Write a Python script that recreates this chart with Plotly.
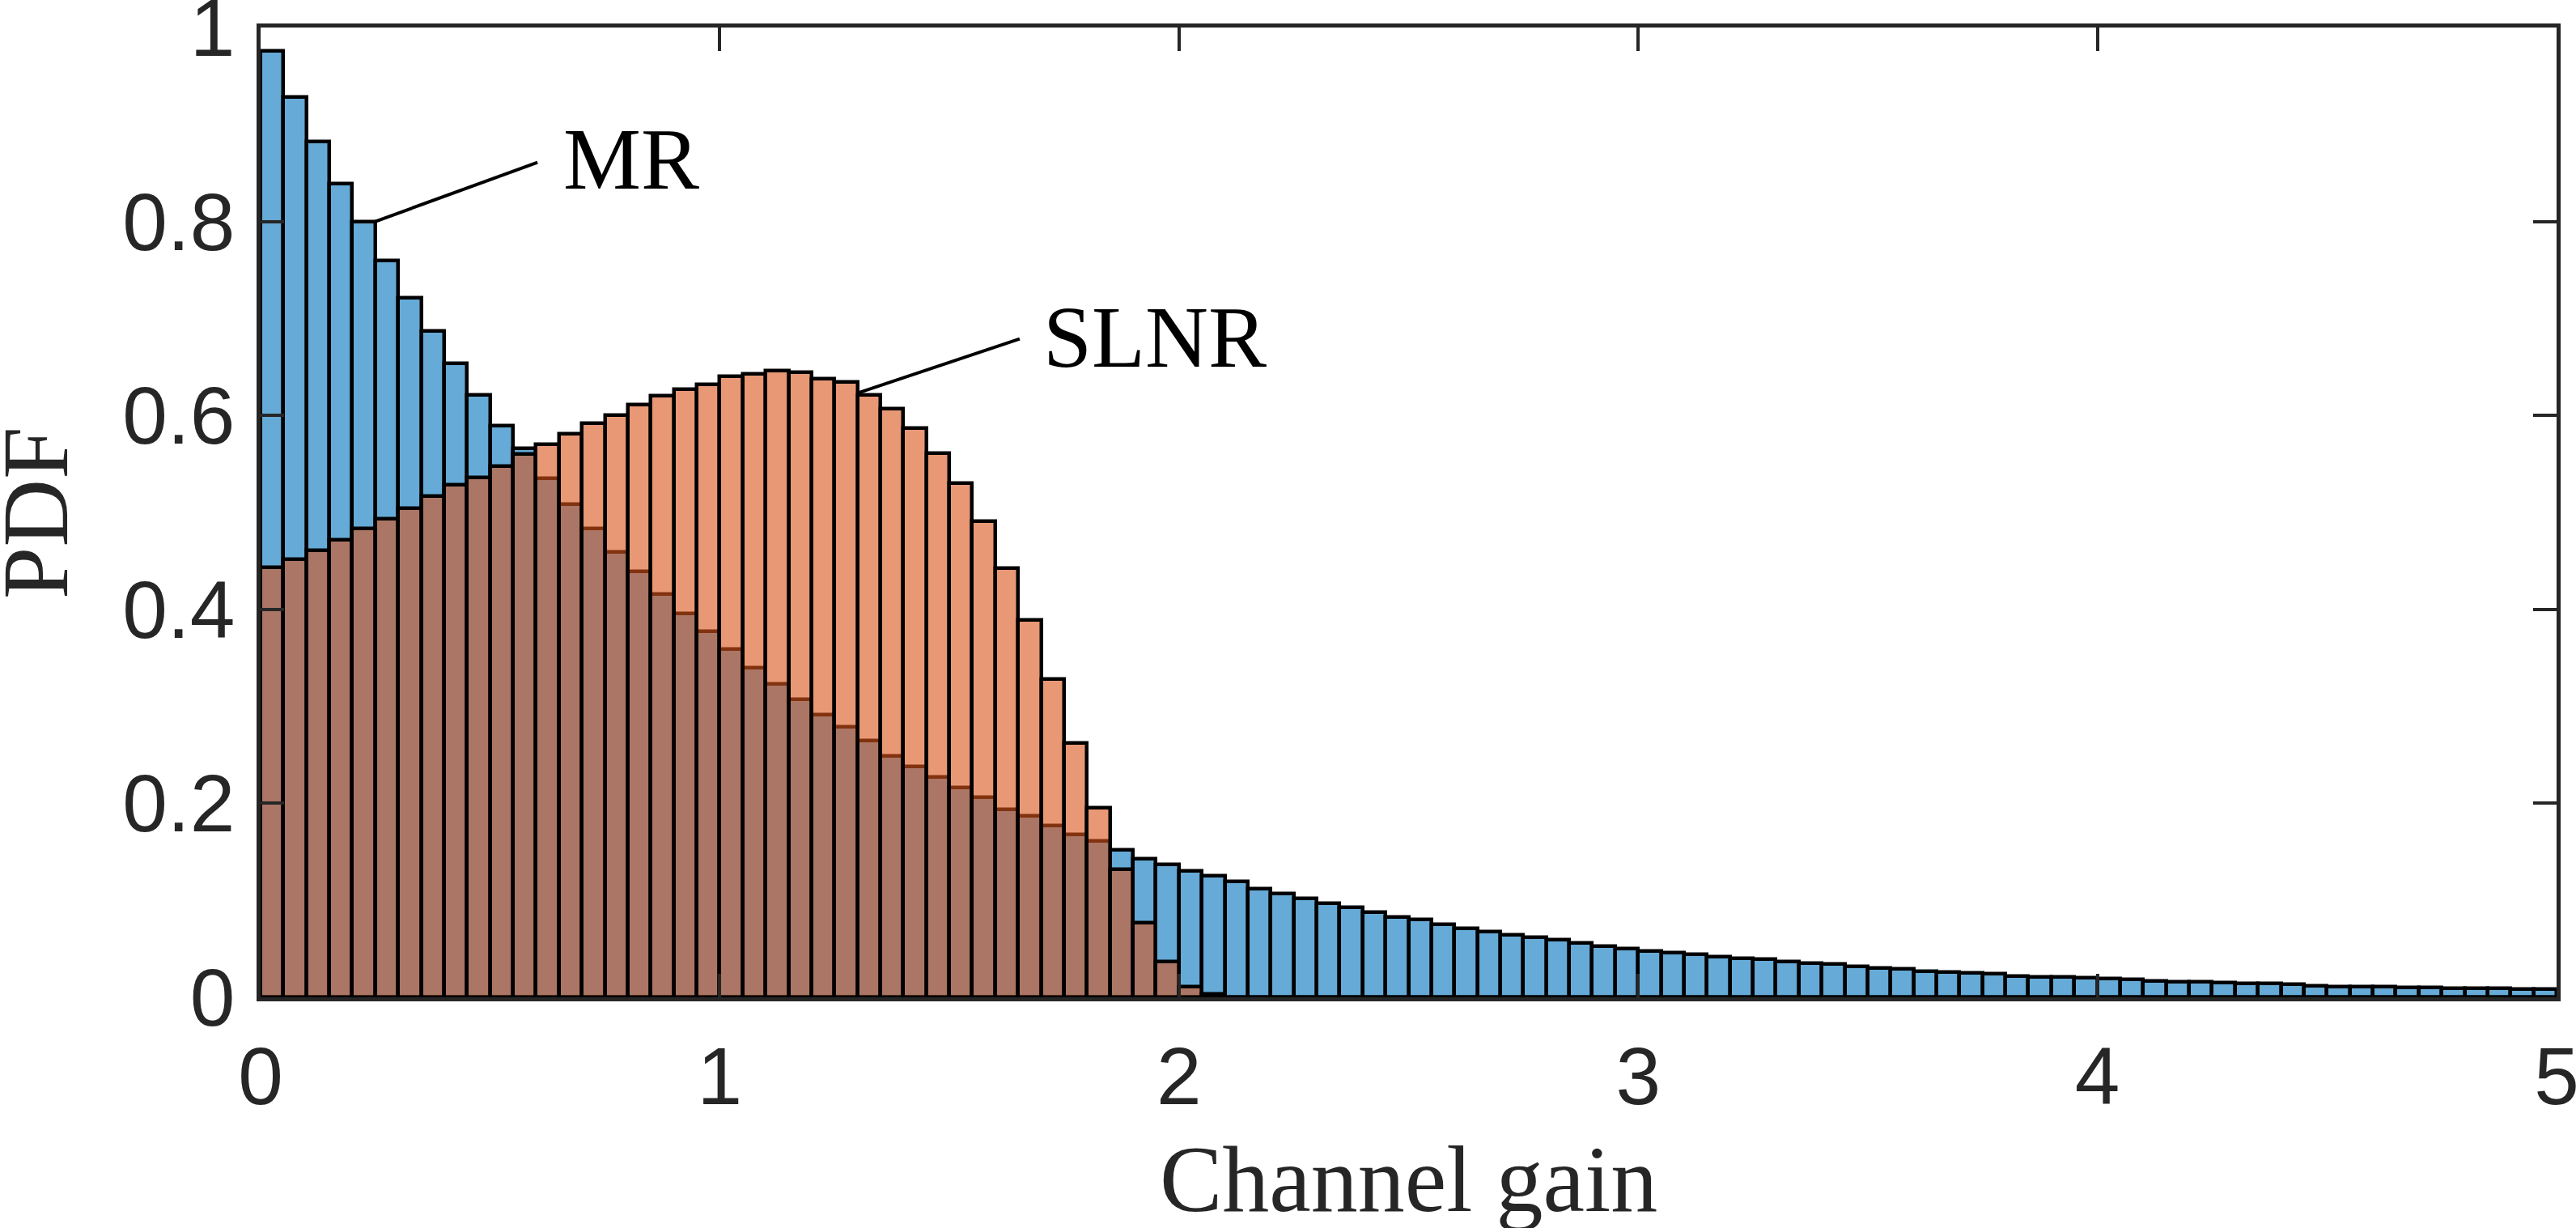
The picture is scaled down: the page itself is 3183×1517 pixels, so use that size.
import plotly.graph_objects as go

# ---- data ----
bin_width = 0.05
bin_left_edges = [round(i * bin_width, 2) for i in range(100)]

mr_pdf = [0.976, 0.928, 0.882, 0.839, 0.800, 0.760, 0.721, 0.687, 0.654, 0.621,
          0.589, 0.566, 0.535, 0.508, 0.483, 0.459, 0.439, 0.416, 0.396, 0.377,
          0.359, 0.340, 0.323, 0.307, 0.291, 0.279, 0.265, 0.249, 0.238, 0.227,
          0.216, 0.206, 0.194, 0.187, 0.177, 0.168, 0.161, 0.152, 0.143, 0.137,
          0.130, 0.125, 0.119, 0.112, 0.107, 0.102, 0.097, 0.093, 0.088, 0.083,
          0.080, 0.075, 0.071, 0.068, 0.064, 0.062, 0.059, 0.056, 0.053, 0.050,
          0.048, 0.046, 0.044, 0.042, 0.040, 0.039, 0.037, 0.035, 0.034, 0.032,
          0.030, 0.029, 0.027, 0.026, 0.025, 0.024, 0.022, 0.021, 0.021, 0.020,
          0.019, 0.018, 0.017, 0.016, 0.016, 0.015, 0.014, 0.014, 0.013, 0.012,
          0.011, 0.011, 0.011, 0.010, 0.010, 0.009, 0.009, 0.009, 0.008, 0.008]

slnr_pdf = [0.443, 0.452, 0.461, 0.472, 0.483, 0.493, 0.504, 0.517, 0.528, 0.536,
            0.548, 0.560, 0.570, 0.581, 0.592, 0.600, 0.611, 0.620, 0.627, 0.632,
            0.640, 0.643, 0.646, 0.644, 0.638, 0.634, 0.621, 0.607, 0.587, 0.561,
            0.530, 0.491, 0.442, 0.389, 0.328, 0.262, 0.195, 0.132, 0.077, 0.037,
            0.011, 0.003] + [0.0] * 58

x_ticks = [0, 1, 2, 3, 4, 5]
y_ticks = [0, 0.2, 0.4, 0.6, 0.8, 1]
y_tick_labels = ["0", "0.2", "0.4", "0.6", "0.8", "1"]

labels = ["MR", "SLNR"]
label_text_pos = [(0.656, 0.864), (1.700, 0.681)]
label_arrow = [((0.25, 0.800), (0.603, 0.861)), ((1.30, 0.623), (1.653, 0.679))]

x_title = "Channel gain"
y_title = "PDF"

# ---- figure ----
centers = [e + bin_width / 2 for e in bin_left_edges]
AX = "#262626"
SERIF = "Liberation Serif, Times New Roman, serif"
SANS = "Liberation Sans, Arial, Helvetica, sans-serif"

fig = go.Figure()
fig.add_trace(go.Bar(
    x=centers, y=mr_pdf, width=[bin_width] * len(centers), name=labels[0],
    marker=dict(color="rgba(0,114,189,0.6)", line=dict(color="black", width=4.5)),
))
fig.add_trace(go.Bar(
    x=centers, y=slnr_pdf, width=[bin_width] * len(centers), name=labels[1],
    marker=dict(color="rgba(217,83,25,0.6)", line=dict(color="black", width=4.5)),
))

for (x0, y0), (x1, y1) in label_arrow:
    fig.add_shape(type="line", xref="x", yref="y", x0=x0, y0=y0, x1=x1, y1=y1,
                  line=dict(color="black", width=4))

for txt, (tx, ty) in zip(labels, label_text_pos):
    fig.add_annotation(x=tx, y=ty, xref="x", yref="y", text=txt, showarrow=False,
                       xanchor="left", yanchor="middle",
                       font=dict(family=SERIF, size=108, color="black"))

fig.add_annotation(x=0.5, y=-0.1880, xref="paper", yref="paper", text=x_title,
                   showarrow=False, xanchor="center", yanchor="middle",
                   font=dict(family=SERIF, size=116, color=AX))
fig.add_annotation(x=-0.0980, y=0.5, xref="paper", yref="paper", text=y_title,
                   showarrow=False, xanchor="center", yanchor="middle", textangle=-90,
                   font=dict(family=SERIF, size=116, color=AX))

axis_common = dict(
    showline=True, linecolor=AX, linewidth=4.5, mirror="ticks",
    ticks="inside", ticklen=29, tickwidth=4, tickcolor=AX,
    showgrid=False, zeroline=False, ticklabeloverflow="allow", automargin=False,
    tickfont=dict(family=SANS, size=100, color=AX),
)

fig.update_layout(
    width=3183, height=1517,
    margin=dict(l=322, r=24, t=34, b=285, autoexpand=False),
    paper_bgcolor="white", plot_bgcolor="white",
    barmode="overlay", bargap=0, showlegend=False,
    xaxis=dict(range=[0, 5], tickvals=x_ticks, ticklabelstandoff=7, **axis_common),
    yaxis=dict(range=[0, 1], tickvals=y_ticks, ticktext=y_tick_labels,
               ticklabelstandoff=7, **axis_common),
)

fig.write_html("out.html")
